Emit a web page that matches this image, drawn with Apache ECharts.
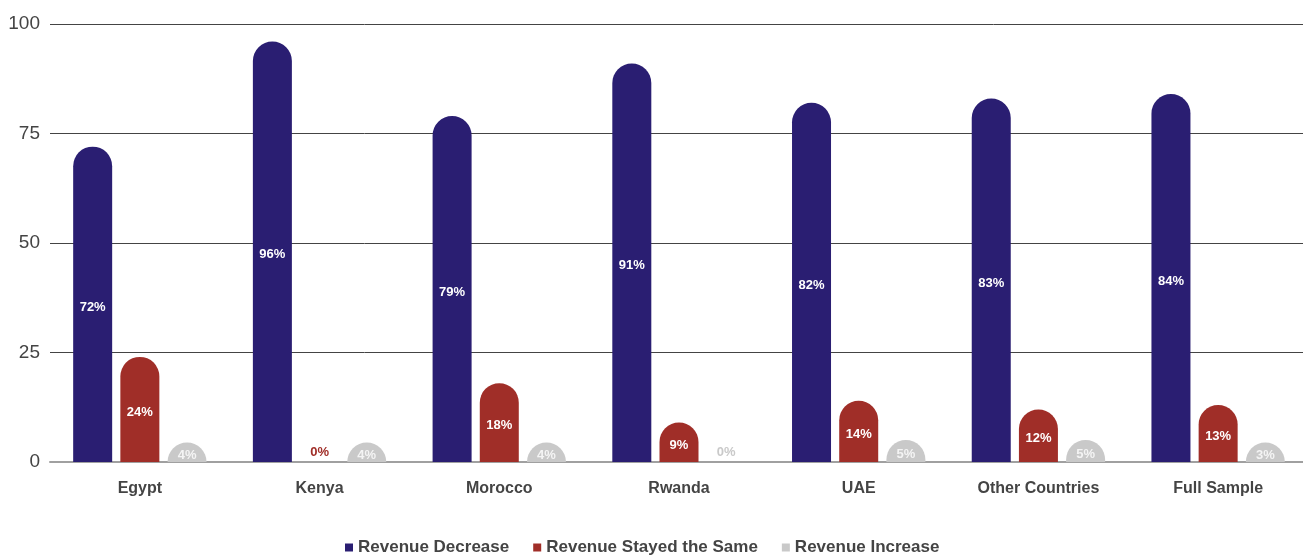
<!DOCTYPE html>
<html>
<head>
<meta charset="utf-8">
<script src="https://cdn.jsdelivr.net/npm/echarts@6/dist/echarts.min.js"></script>
<style>
  html, body { margin: 0; padding: 0; background: #fff; overflow: hidden; }
  #chart { width: 1310px; height: 555px; }
</style>
</head>
<body>
<div id="chart"></div>
<script>
// Share of firms by change in revenue, per country (%)
const categories = ['Egypt', 'Kenya', 'Morocco', 'Rwanda', 'UAE', 'Other Countries', 'Full Sample'];
const revenueDecrease = [72, 96, 79, 91, 82, 83, 84];
const revenueSame = [24, 0, 18, 9, 14, 12, 13];
const revenueIncrease = [4, 4, 4, 0, 5, 5, 3];
const yTicks = [0, 25, 50, 75, 100];

const FONT = '"Liberation Sans", Arial, Helvetica, sans-serif';
const colors = ['#2a1e72', '#a02e28', '#c9c9c9'];
const labelColors = ['#ffffff', '#ffffff', '#f4f4f4'];

function makeSeries(name, values, idx) {
  return {
    name: name,
    type: 'bar',
    barWidth: 39,
    barGap: '21%',
    // small bars keep at least their full rounded cap
    barMinHeight: 19.5,
    itemStyle: { color: colors[idx], borderRadius: [20, 20, 0, 0] },
    label: {
      show: true,
      position: 'inside',
      offset: [0, 3],
      formatter: '{c}%',
      color: labelColors[idx],
      fontFamily: FONT,
      fontWeight: 'bold',
      fontSize: 13
    },
    // zero values: no visible bar, label sits on the baseline in the series colour
    data: values.map(v => v === 0
      ? {
          value: v,
          itemStyle: { color: 'rgba(0,0,0,0)' },
          label: { position: 'insideBottom', distance: 3, offset: [0, 0], color: colors[idx] }
        }
      : v)
  };
}

const chart = echarts.init(document.getElementById('chart'));
chart.setOption({
  animation: false,
  backgroundColor: '#ffffff',
  textStyle: { fontFamily: FONT },
  grid: { left: 50, top: 24, width: 1258, height: 438 },
  legend: {
    top: 534,
    left: 340,
    itemWidth: 8,
    itemHeight: 8,
    itemGap: 24,
    icon: 'rect',
    textStyle: { fontFamily: FONT, fontWeight: 'bold', fontSize: 17, color: '#444' },
    data: ['Revenue Decrease', 'Revenue Stayed the Same', 'Revenue Increase']
  },
  xAxis: {
    type: 'category',
    data: categories,
    axisLine: { lineStyle: { color: '#a0a0a0', width: 2 } },
    axisTick: { show: false },
    axisLabel: { margin: 19, fontFamily: FONT, fontWeight: 'bold', fontSize: 16, color: '#444' }
  },
  yAxis: {
    type: 'value',
    min: yTicks[0],
    max: yTicks[yTicks.length - 1],
    interval: 25,
    axisLine: { show: false },
    axisTick: { show: false },
    splitLine: { lineStyle: { color: '#444', width: 1 } },
    axisLabel: { margin: 10, fontFamily: FONT, fontSize: 19, color: '#444' }
  },
  series: [
    makeSeries('Revenue Decrease', revenueDecrease, 0),
    makeSeries('Revenue Stayed the Same', revenueSame, 1),
    makeSeries('Revenue Increase', revenueIncrease, 2)
  ]
});
</script>
</body>
</html>
